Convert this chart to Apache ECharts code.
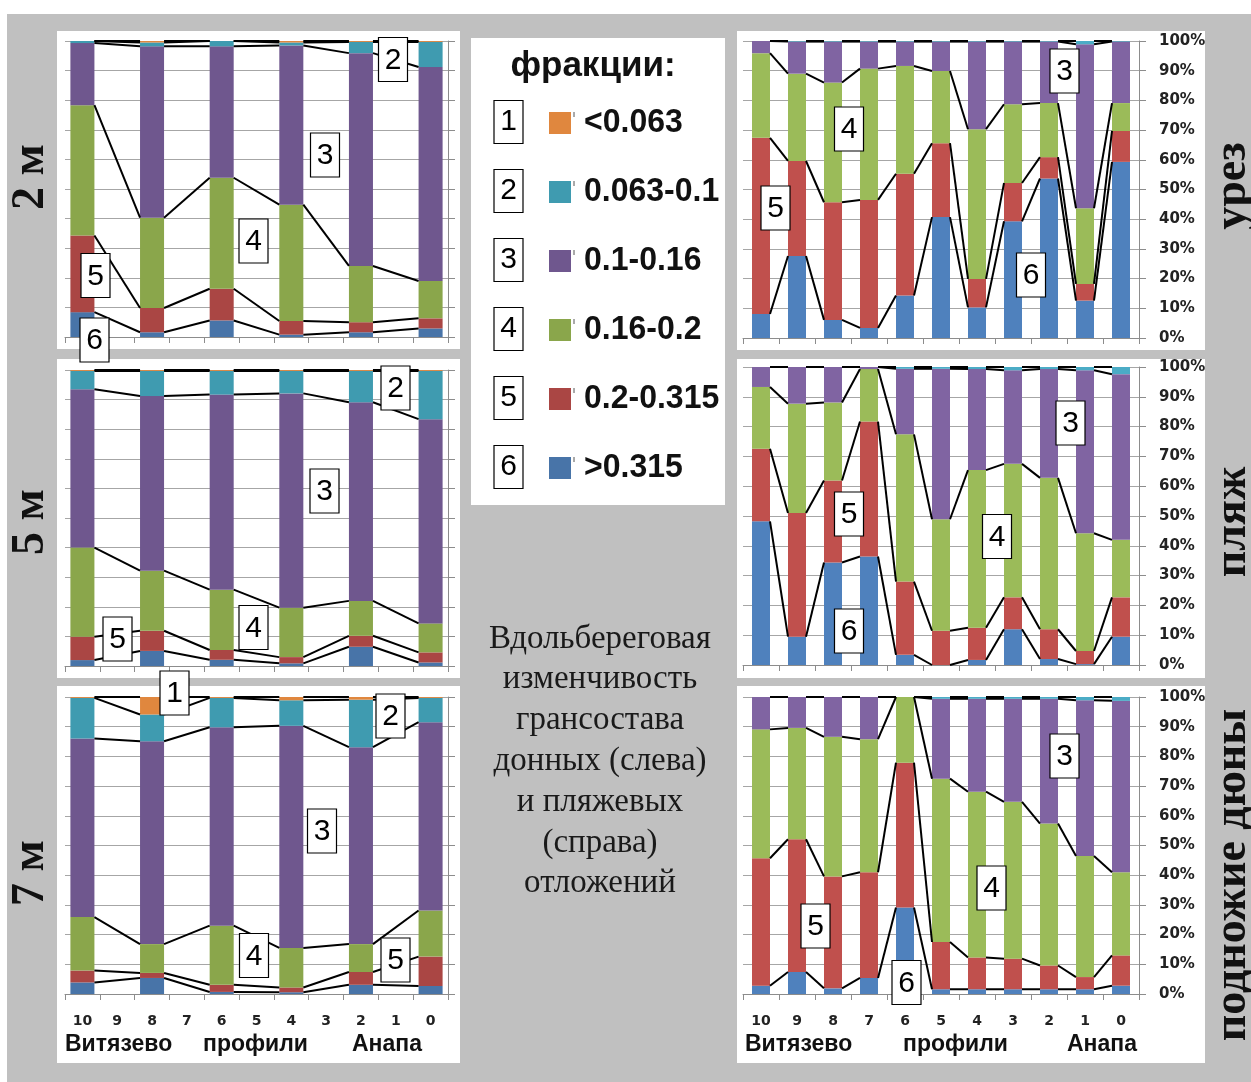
<!DOCTYPE html>
<html><head><meta charset="utf-8">
<script src="https://cdn.jsdelivr.net/npm/echarts@6/dist/echarts.min.js"></script>
<style>html,body{margin:0;padding:0;background:#fff}#c{width:1251px;height:1082px}</style>
</head><body><div id="c"></div>
<script>
// ---------- categories / labels ----------
const profiles = ['10','9','8','7','6','5','4','3','2','1','0'];
const fractionNames = ['<0.063','0.063-0.1','0.1-0.16','0.16-0.2','0.2-0.315','>0.315'];
const depthLabels = ['2 м','5 м','7 м'];
const beachLabels = ['урез','пляж','подножие дюны'];
const placeLabels = ['Витязево','профили','Анапа'];
const noteLines = ['Вдольбереговая','изменчивость','грансостава','донных (слева)','и пляжевых','(справа)','отложений'];

// ---------- 2 m depth (left, top) ----------
const m2_f6 = [8.4,null,1.6,null,5.6,null,0.8,null,1.6,null,2.9];
const m2_f5 = [25.9,null,8.2,null,10.7,null,4.6,null,3.4,null,3.4];
const m2_f4 = [44.0,null,30.5,null,37.5,null,39.3,null,19.0,null,12.6];
const m2_f3 = [21.0,null,57.9,null,44.4,null,53.8,null,71.9,null,72.3];
const m2_f2 = [0.7,null,1.3,null,1.8,null,1.0,null,3.8,null,8.5];
const m2_f1 = [0,null,0.5,null,0,null,0.5,null,0.3,null,0.3];
// ---------- 5 m depth ----------
const m5_f6 = [2.0,null,5.1,null,2.1,null,0.9,null,6.5,null,1.2];
const m5_f5 = [7.9,null,6.8,null,3.3,null,2.1,null,3.7,null,3.4];
const m5_f4 = [30.1,null,20.3,null,20.4,null,16.7,null,11.8,null,9.8];
const m5_f3 = [53.5,null,59.0,null,65.9,null,72.4,null,67.1,null,69.0];
const m5_f2 = [6.2,null,8.5,null,8.0,null,7.6,null,10.6,null,16.3];
const m5_f1 = [0.3,null,0.3,null,0.3,null,0.3,null,0.3,null,0.3];
// ---------- 7 m depth ----------
const m7_f6 = [3.9,null,5.4,null,0.7,null,0.6,null,3.1,null,2.7];
const m7_f5 = [4.0,null,1.7,null,2.4,null,1.6,null,4.3,null,9.9];
const m7_f4 = [18.0,null,9.7,null,19.9,null,13.3,null,9.4,null,15.5];
const m7_f3 = [60.1,null,68.3,null,66.8,null,74.8,null,66.3,null,63.4];
const m7_f2 = [13.7,null,9.0,null,9.9,null,8.6,null,16.0,null,8.2];
const m7_f1 = [0.3,null,5.9,null,0.3,null,1.1,null,0.9,null,0.3];
// ---------- урез ----------
const ur_f6 = [8.1,27.6,6.1,3.4,14.3,40.7,10.3,39.3,53.7,12.6,59.3];
const ur_f5 = [59.3,32.0,39.6,43.1,41.0,24.9,9.6,12.9,7.2,5.6,10.4];
const ur_f4 = [28.5,29.4,40.3,44.2,36.3,24.3,50.4,26.5,18.2,25.5,9.4];
const ur_f3 = [4.1,10.8,13.8,9.1,8.2,9.9,29.5,21.1,20.7,55.2,20.7];
const ur_f2 = [0,0.2,0.2,0.2,0.2,0.2,0.2,0.2,0.2,1.1,0.2];
const ur_f1 = [0,0,0,0,0,0,0,0,0,0,0];
// ---------- пляж ----------
const pl_f6 = [48.2,9.5,34.4,36.4,3.4,0,1.7,12.0,2.0,0.3,9.5];
const pl_f5 = [24.4,41.5,27.5,45.3,24.6,11.5,10.8,10.7,10.0,4.4,13.2];
const pl_f4 = [20.7,36.7,26.2,17.6,49.4,37.4,52.9,44.8,50.8,39.5,19.3];
const pl_f3 = [6.7,12.3,11.9,0.7,22.0,50.5,33.9,31.4,36.5,54.7,55.6];
const pl_f2 = [0,0,0,0,0.6,0.6,0.7,1.1,0.7,1.1,2.4];
const pl_f1 = [0,0,0,0,0,0,0,0,0,0,0];
// ---------- подножие дюны ----------
const pd_f6 = [2.8,7.4,1.9,5.4,29.1,1.6,1.6,1.6,1.6,1.6,2.8];
const pd_f5 = [42.9,44.7,37.7,35.6,48.8,15.9,10.7,10.3,8.0,4.1,10.2];
const pd_f4 = [43.4,37.5,47.0,44.8,22.1,55.0,55.8,52.8,47.8,40.8,28.0];
const pd_f3 = [10.9,10.4,13.4,14.2,0,26.9,31.3,34.7,42.0,52.4,57.7];
const pd_f2 = [0,0,0,0,0,0.6,0.6,0.6,0.6,1.1,1.3];
const pd_f1 = [0,0,0,0,0,0,0,0,0,0,0];

// ---------- styling ----------
const darkColors  = ['#E0873E','#3F9BB0','#6F578E','#8AA64B','#AA4644','#4874A8']; // f1..f6
const lightColors = ['#F79646','#4BACC6','#8064A2','#9BBB59','#C0504D','#4F81BD'];

const panels = [
  {grid:{left:65, top:41, width:383, height:296}, stacks:[m2_f6,m2_f5,m2_f4,m2_f3,m2_f2,m2_f1], colors:darkColors, bw:0.69, yLabels:false, xLabels:false},
  {grid:{left:65, top:370, width:383, height:296}, stacks:[m5_f6,m5_f5,m5_f4,m5_f3,m5_f2,m5_f1], colors:darkColors, bw:0.69, yLabels:false, xLabels:false},
  {grid:{left:65, top:697, width:383, height:297}, stacks:[m7_f6,m7_f5,m7_f4,m7_f3,m7_f2,m7_f1], colors:darkColors, bw:0.69, yLabels:false, xLabels:true},
  {grid:{left:743, top:41, width:396, height:297}, stacks:[ur_f6,ur_f5,ur_f4,ur_f3,ur_f2,ur_f1], colors:lightColors, bw:0.5, yLabels:true, xLabels:false},
  {grid:{left:743, top:367, width:396, height:298}, stacks:[pl_f6,pl_f5,pl_f4,pl_f3,pl_f2,pl_f1], colors:lightColors, bw:0.5, yLabels:true, xLabels:false},
  {grid:{left:743, top:697, width:396, height:297}, stacks:[pd_f6,pd_f5,pd_f4,pd_f3,pd_f2,pd_f1], colors:lightColors, bw:0.5, yLabels:true, xLabels:true}
];

const grids=[], xAxes=[], yAxes=[], series=[];
panels.forEach((p, g) => {
  grids.push(Object.assign({containLabel:false}, p.grid));
  xAxes.push({
    type:'category', gridIndex:g, data:profiles,
    axisLine:{show:true, lineStyle:{color:'#8c8c8c', width:1}},
    axisTick:{show:true, length:6, lineStyle:{color:'#8c8c8c'}},
    axisLabel:{show:p.xLabels, margin:20, fontFamily:'DejaVu Sans', fontWeight:'bold', fontSize:14, color:'#222'},
    splitLine:{show:false}
  });
  yAxes.push({
    type:'value', gridIndex:g, min:0, max:100, interval:10, position:'right',
    axisLine:{show:true, lineStyle:{color:'#8c8c8c'}},
    axisTick:{show:true, length:7, lineStyle:{color:'#8c8c8c'}},
    axisLabel:{show:p.yLabels, margin:20, formatter:'{value}%', fontFamily:'DejaVu Sans', fontWeight:'bold', fontSize:15, color:'#222'},
    splitLine:{show:true, lineStyle:{color:'#a6a6a6', width:1}}
  });
  // stacked bars, bottom (>0.315) to top (<0.063)
  p.stacks.forEach((arr, k) => {
    const colorIdx = 5 - k;
    series.push({
      type:'bar', name:fractionNames[colorIdx], xAxisIndex:g, yAxisIndex:g, stack:'s'+g,
      barWidth:(p.bw*100)+'%', data:arr, itemStyle:{color:p.colors[colorIdx]},
      silent:true, animation:false
    });
  });
  // series lines connecting boundaries of neighbouring bars
  const idx = [];
  p.stacks[0].forEach((v,i) => { if (v !== null) idx.push(i); });
  const pairs = [];
  for (let k=0;k<idx.length-1;k++) pairs.push([idx[k], idx[k+1], 0, 100]);
  const cum = i => { let s=0; return p.stacks.map(a => (s += (a[i] || 0))); };
  series.push({
    type:'custom', xAxisIndex:g, yAxisIndex:g, coordinateSystem:'cartesian2d',
    data:pairs, encode:{x:[0,1], y:[2,3]}, silent:true, animation:false, z:5,
    renderItem:(params, api) => {
      const pr = pairs[params.dataIndex];
      const a = pr[0], b = pr[1];
      const half = api.size([1,0])[0] * p.bw / 2;
      const ca = cum(a), cb = cum(b);
      return {type:'group', children: ca.map((v,k) => {
        const p1 = api.coord([a, Math.min(v,100)]);
        const p2 = api.coord([b, Math.min(cb[k],100)]);
        return {type:'line', shape:{x1:p1[0]+half, y1:p1[1], x2:p2[0]-half, y2:p2[1]},
                style:{stroke:'#000', lineWidth:2}};
      })};
    }
  });
});

// ---------- decorations (graphic) ----------
const G = [];
G.push({type:'rect', z:-10, shape:{x:7, y:14, width:1251, height:1082}, style:{fill:'#c0c0c0'}});
[[57,31,403,318],[57,359,403,319],[57,686,403,377],
 [737,31,468,319],[737,359,468,319],[737,686,468,377]].forEach(r =>
  G.push({type:'rect', z:-9, shape:{x:r[0], y:r[1], width:r[2], height:r[3]}, style:{fill:'#fff'}}));
G.push({type:'rect', z:-9, shape:{x:471, y:38, width:254, height:467}, style:{fill:'#fff'}});

const serifBold = '"Liberation Serif","Times New Roman",serif';
depthLabels.forEach((t,i) => G.push({type:'text', z:20, x:31, y:[177,522,873][i], rotation:Math.PI/2,
  style:{text:t, font:'bold 46px '+serifBold, fill:'#111', textAlign:'center', textVerticalAlign:'middle'}}));
beachLabels.forEach((t,i) => G.push({type:'text', z:20, x:1233, y:[186,522,875][i], rotation:Math.PI/2,
  style:{text:t, font:'bold 46px '+serifBold, fill:'#111', textAlign:'center', textVerticalAlign:'middle'}}));

// place names under bottom panels
[[65,203,352],[745,903,1067]].forEach(xs => placeLabels.forEach((t,i) =>
  G.push({type:'text', z:20, x:xs[i], y:1045, style:{text:t, font:'bold 23px "Liberation Sans",Arial,sans-serif',
    fill:'#111', textAlign:'left', textVerticalAlign:'middle'}})));

// central note
noteLines.forEach((t,i) => G.push({type:'text', z:20, x:600, y:639 + i*40.8,
  style:{text:t, font:'33px '+serifBold, fill:'#1a1a1a', textAlign:'center', textVerticalAlign:'middle'}}));

// legend
G.push({type:'text', z:20, x:593, y:66, style:{text:'фракции:', font:'bold 35px "Liberation Sans",Arial,sans-serif',
  fill:'#111', textAlign:'center', textVerticalAlign:'middle'}});
fractionNames.forEach((t,i) => {
  const cy = 122 + i*69;
  G.push({type:'rect', z:20, shape:{x:494, y:cy-21.5, width:29, height:43}, style:{fill:'#fff', stroke:'#000', lineWidth:1.2}});
  G.push({type:'text', z:21, x:508.5, y:cy, style:{text:String(i+1), font:'30px "Liberation Sans",Arial,sans-serif', fill:'#000', textAlign:'center', textVerticalAlign:'middle'}});
  G.push({type:'rect', z:20, shape:{x:549, y:cy-10, width:22, height:22}, style:{fill:darkColors[i]}});
  G.push({type:'line', z:20, shape:{x1:574, y1:cy-10, x2:574, y2:cy-5}, style:{stroke:'#555', lineWidth:1}});
  G.push({type:'text', z:20, x:584, y:cy+1, scaleX:0.97, style:{text:t, font:'bold 33px "Liberation Sans",Arial,sans-serif', fill:'#111', textAlign:'left', textVerticalAlign:'middle'}});
});

// numbered annotation boxes on the charts
const notes = [
  ['2',393,59.5],['3',325,155],['4',253.5,241],['5',95.5,275.5],['6',94.5,340],
  ['2',395.5,388],['3',324.5,491],['4',253.5,627.5],['5',117.5,639],
  ['1',174.5,693],['2',390.5,716],['3',322,831],['4',254,955.5],['5',395.5,960],
  ['3',1064.5,71],['4',849,129],['5',775.5,208],['6',1031,275],
  ['3',1070.5,423],['5',849,514],['4',997,536.5],['6',849,631],
  ['3',1064.5,756],['4',991.5,888],['5',815.5,926],['6',906.5,982.5]
];
notes.forEach(n => {
  G.push({type:'rect', z:30, shape:{x:n[1]-14.5, y:n[2]-22, width:29, height:44}, style:{fill:'#fff', stroke:'#000', lineWidth:1.2}});
  G.push({type:'text', z:31, x:n[1], y:n[2]+1, style:{text:n[0], font:'30px "Liberation Sans",Arial,sans-serif', fill:'#000', textAlign:'center', textVerticalAlign:'middle'}});
});

const chart = echarts.init(document.getElementById('c'), null, {renderer:'canvas'});
chart.setOption({
  animation:false, backgroundColor:'#fff',
  grid:grids, xAxis:xAxes, yAxis:yAxes, series:series, graphic:{elements:G}
});
</script></body></html>
